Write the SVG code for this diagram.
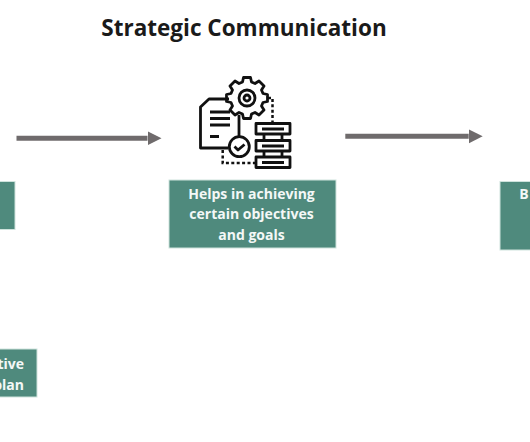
<svg xmlns="http://www.w3.org/2000/svg" width="530" height="442" viewBox="0 0 530 442">
<style>
.box{fill:#4f8a7d;stroke:#cfe3dd;stroke-width:1}
.t{font-family:"Open Sans","Liberation Sans",sans-serif;font-weight:700;font-size:14px;fill:#f4f8f7;text-anchor:middle}
.title{font-family:"Open Sans","Liberation Sans",sans-serif;font-weight:700;font-size:22.500px;fill:#1a1a1a;text-anchor:middle}
.conn{stroke:#6f6b6c;stroke-width:5;fill:none;marker-end:url(#ah)}
.ic{fill:none;stroke:#111;stroke-width:2.800;stroke-linejoin:round}
.dash{fill:none;stroke:#111;stroke-width:2.500;stroke-dasharray:3 2.400}
</style>
<defs>
<marker id="ah" markerUnits="userSpaceOnUse" markerWidth="15" markerHeight="15" refX="0" refY="7" orient="auto"><path d="M0 0L14 7L0 14Z" fill="#6f6b6c"/></marker>
</defs>
<rect width="530" height="442" fill="#fff"/>
<text class="title" x="244" y="36">Strategic Communication</text>
<g id="connectors">
<path class="conn" d="M16.500 138.300H147.500"/>
<path class="conn" d="M345.300 136.300H468.700"/>
</g>
<g id="icon">
<path class="ic" d="M229 99H209L200.500 107V148H228"/>
<path class="ic" d="M239 115V137"/>
<path class="ic" d="M210 112H230M210 118.500H230M210 125H230M210 136.500H219"/>
<circle class="ic" cx="239.300" cy="146.700" r="10"/>
<path class="ic" d="M234.500 146.500L238 150L244.500 144.500"/>
<path class="ic" d="M243.500 82H250.500L251.500 86.500L255 88L259 85.500L264 90.500L261.500 94.500L263 98L267.500 99V106L263 107L261.500 110.500L264 114.500L259 119.500L255 117L251.500 118.500L250.500 123H243.500L242.500 118.500L239 117L235 119.500L230 114.500L232.500 110.500L231 107L226.500 106V99L231 98L232.500 94.500L230 90.500L235 85.500L239 88L242.500 86.500Z" transform="translate(0 -4.500)"/>
<circle class="ic" cx="247" cy="98" r="8"/>
<circle class="ic" cx="247" cy="98" r="3"/>
<path class="dash" d="M268 98H272.500V122"/>
<path class="dash" d="M222.700 150V163H256"/>
<rect class="ic" x="256" y="123.500" width="34" height="10.500"/>
<rect class="ic" x="256" y="140.500" width="34" height="10.500"/>
<rect class="ic" x="256" y="157" width="34" height="10.500"/>
<path class="ic" d="M262 129H284M262 146H284M262 162.500H284"/>
<path class="ic" d="M264 134V140.500M282 134V140.500M264 151V157M282 151V157"/>
</g>
<g id="node-left"><rect class="box" x="-2" y="181.500" width="17" height="48"/></g>
<g id="node-center">
<rect class="box" x="169" y="180" width="167" height="68"/>
<text class="t" x="251.500" y="199">Helps in achieving</text>
<text class="t" x="251.500" y="219">certain objectives</text>
<text class="t" x="251.500" y="239.500">and goals</text>
</g>
<g id="node-right">
<rect class="box" x="500" y="181.500" width="34" height="68.500"/>
<text class="t" x="524" y="199">B</text>
</g>
<g id="node-bottom">
<rect class="box" x="-2" y="349" width="39" height="48"/>
<text class="t" x="24" y="369" style="text-anchor:end">tive</text>
<text class="t" x="24" y="390" style="text-anchor:end">plan</text>
</g>
</svg>
